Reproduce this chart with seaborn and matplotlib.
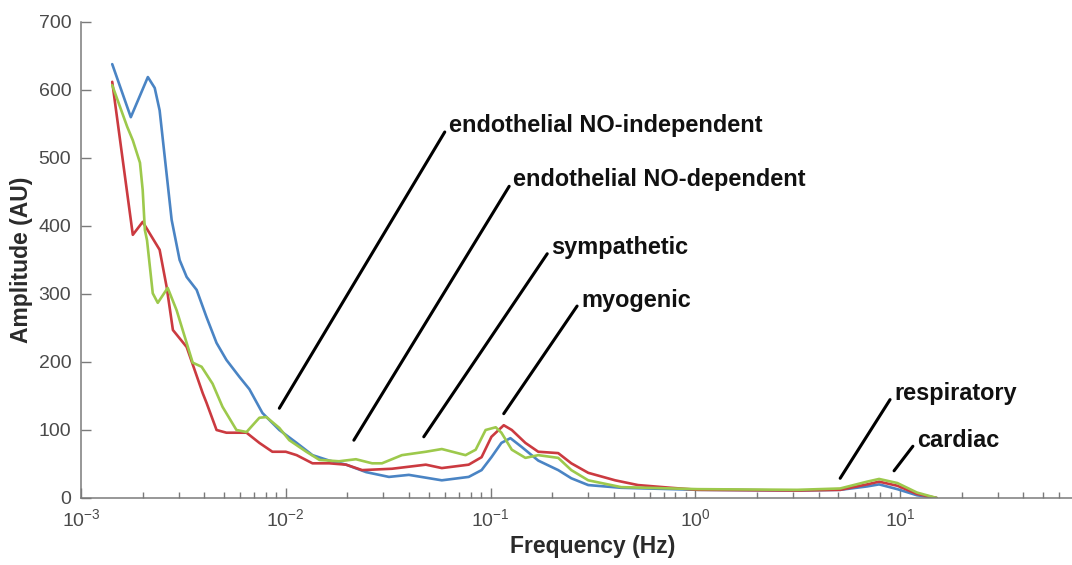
import numpy as np
import pandas as pd
import seaborn as sns
import matplotlib
matplotlib.use('Agg')
import matplotlib.pyplot as plt
from matplotlib.ticker import LogLocator, LogFormatterMathtext, NullFormatter

# values
blue_freq = [0.00142, 0.00175, 0.00212, 0.00229, 0.00242, 0.00277, 0.00303, 0.00328,
             0.00367, 0.00410, 0.00459, 0.00513, 0.00594, 0.00664, 0.00769, 0.0093,
             0.0113, 0.0135, 0.0163, 0.0197, 0.0247, 0.0319, 0.0399, 0.0578, 0.0782,
             0.0904, 0.101, 0.113, 0.125, 0.142, 0.171, 0.214, 0.248, 0.300, 0.434,
             1.03, 3.15, 5.1, 6.9, 7.9, 9.7, 12.1, 15.1]
blue_amp = [638, 560, 619, 603, 570, 409, 350, 325,
            306, 266, 228, 203, 178, 160, 125, 100,
            81, 63, 55, 49, 38, 31, 34, 26, 31,
            41, 60, 81, 88, 75, 55, 41, 29, 19, 15,
            12, 11, 12, 17, 20, 13, 4, 0]

red_freq = [0.00142, 0.00179, 0.00200, 0.00242, 0.00262, 0.00281, 0.00328, 0.00393,
            0.00410, 0.00459, 0.00513, 0.00643, 0.00743, 0.00860, 0.0100, 0.0113,
            0.0135, 0.0163, 0.0197, 0.0236, 0.0330, 0.0483, 0.0578, 0.0782, 0.0904,
            0.101, 0.116, 0.127, 0.148, 0.171, 0.214, 0.248, 0.300, 0.406, 0.525,
            0.760, 1.03, 3.15, 5.1, 6.9, 7.9, 9.7, 12.1, 15.1]
red_amp = [612, 387, 406, 365, 310, 247, 222, 154,
           140, 100, 96, 96, 81, 68, 68, 63,
           51, 51, 49, 41, 43, 49, 44, 49, 60,
           90, 107, 100, 81, 68, 66, 51, 37, 26, 19,
           15, 12, 11, 12, 20, 24, 18, 6, 0]

green_freq = [0.00142, 0.00168, 0.00179, 0.00194, 0.00200, 0.00205, 0.00210, 0.00224,
              0.00237, 0.00265, 0.00293, 0.00351, 0.00388, 0.00439, 0.00491, 0.00574,
              0.00643, 0.00743, 0.00804, 0.00930, 0.0104, 0.0126, 0.0146, 0.0182,
              0.0220, 0.0264, 0.0295, 0.0369, 0.0483, 0.0578, 0.0755, 0.0846, 0.0946,
              0.106, 0.113, 0.127, 0.148, 0.171, 0.214, 0.248, 0.300, 0.434,
              1.03, 3.15, 5.1, 6.9, 7.9, 9.7, 12.1, 15.1]
green_amp = [607, 546, 526, 493, 453, 394, 379, 301,
             287, 309, 276, 199, 193, 168, 134, 100,
             97, 118, 119, 103, 85, 68, 56, 54,
             57, 51, 51, 63, 68, 72, 63, 71, 100,
             104, 96, 71, 59, 63, 59, 41, 26, 16,
             13, 12, 14, 24, 28, 22, 8, 0]

labels = ['endothelial NO-independent', 'endothelial NO-dependent', 'sympathetic',
          'myogenic', 'respiratory', 'cardiac']
label_x = [0.0625, 0.129, 0.198, 0.277, 9.35, 12.1]
label_y = [548, 468, 368, 291, 154, 84]
pointer_x = [0.0093, 0.0215, 0.0472, 0.116, 5.1, 9.35]
pointer_y = [132, 85, 90, 124, 29, 40]

x_ticks = [1e-3, 1e-2, 1e-1, 1e0, 1e1]
y_ticks = [0, 100, 200, 300, 400, 500, 600, 700]

df = pd.concat([
    pd.DataFrame({'freq': blue_freq, 'amp': blue_amp, 'series': 'blue'}),
    pd.DataFrame({'freq': red_freq, 'amp': red_amp, 'series': 'red'}),
    pd.DataFrame({'freq': green_freq, 'amp': green_amp, 'series': 'green'}),
])
palette = {'blue': '#4a84c4', 'red': '#cb3a40', 'green': '#9dc94c'}

sns.set_style('ticks')
plt.rcParams['font.family'] = ['Liberation Sans', 'DejaVu Sans']
plt.rcParams['mathtext.fontset'] = 'custom'
plt.rcParams['mathtext.rm'] = 'Liberation Sans'
plt.rcParams['mathtext.default'] = 'regular'
plt.rcParams['axes.unicode_minus'] = False

fig = plt.figure(figsize=(10.72, 5.65), dpi=100)
ax = fig.add_axes([0.0756, 0.1186, 0.955, 0.8425])

sns.lineplot(data=df, x='freq', y='amp', hue='series', palette=palette,
             estimator=None, sort=False, lw=1.9, legend=False, ax=ax)

ax.set_xscale('log')
ax.set_xlim(1e-3, 1e2)
ax.set_ylim(0, 700)
ax.set_yticks(y_ticks)
ax.set_xticks(x_ticks)
ax.xaxis.set_major_formatter(LogFormatterMathtext())
ax.xaxis.set_minor_locator(LogLocator(base=10, subs=np.arange(2, 10), numticks=20))
ax.xaxis.set_minor_formatter(NullFormatter())

for side in ['top', 'right']:
    ax.spines[side].set_visible(False)
for side in ['left', 'bottom']:
    ax.spines[side].set_color('#7a7a7a')
    ax.spines[side].set_linewidth(1.1)

ax.tick_params(which='both', bottom=True, left=True, top=False, right=False)
ax.tick_params(which='major', direction='in', length=7, width=1, color='#7a7a7a',
               labelsize=14, labelcolor='#4a4a4a', pad=7)
ax.tick_params(which='minor', direction='in', length=4.3, width=1, color='#7a7a7a')

ax.set_xlabel('Frequency (Hz)', fontsize=16.5, fontweight='bold', color='#2a2a2a')
ax.set_ylabel('Amplitude (AU)', fontsize=16.5, fontweight='bold', color='#2a2a2a')

for txt, tx, ty, px, py in zip(labels, label_x, label_y, pointer_x, pointer_y):
    ax.annotate(txt, xy=(px, py), xytext=(tx, ty), textcoords='data',
                ha='left', va='center', fontsize=16.9, fontweight='bold',
                color='#111111',
                arrowprops=dict(arrowstyle='-', lw=2.2, color='black',
                                relpos=(0, 0.5), shrinkA=1, shrinkB=0))

fig.savefig('out.png', dpi=100)
